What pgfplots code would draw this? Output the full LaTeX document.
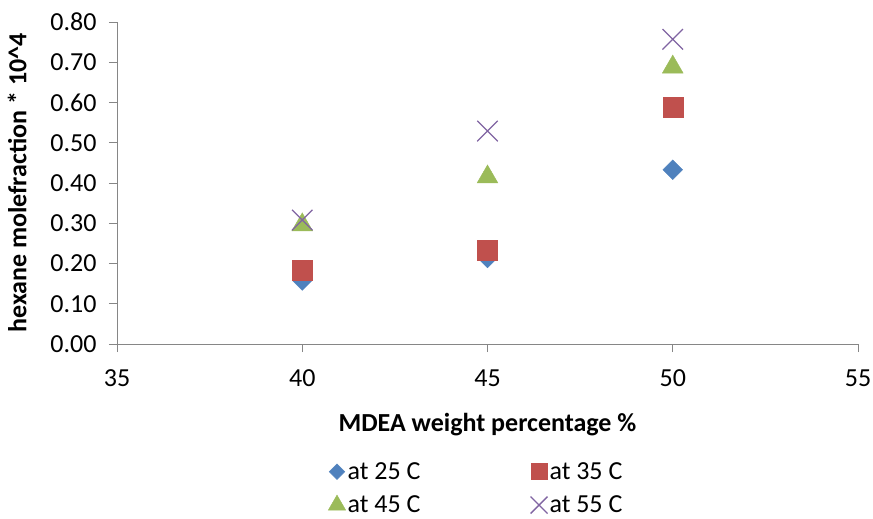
\documentclass[border=0pt]{standalone}
\usepackage{pgfplots}
\pgfplotsset{compat=1.18}
\usepackage{fontspec}
\setmainfont{Carlito}
\definecolor{s25}{HTML}{4F81BD}
\definecolor{s35}{HTML}{C0504D}
\definecolor{s45}{HTML}{9BBB59}
\definecolor{s55}{HTML}{8064A2}
\definecolor{axgray}{HTML}{868686}
\begin{document}
\begin{tikzpicture}[x=1pt,y=1pt]
\path[use as bounding box] (-117,-175) rectangle (756,344);
\begin{axis}[
  at={(0,0)}, anchor=south west,
  scale only axis, width=741pt, height=322pt,
  xmin=35, xmax=55, ymin=0, ymax=0.8,
  xtick={35,40,...,55}, ytick={0,0.1,...,0.8},
  axis x line*=bottom, axis y line*=left,
  axis line style={axgray, line width=0.9pt, -},
  tick style={axgray, line width=0.9pt},
  tick align=outside, major tick length=8pt,
  /pgf/number format/assume math mode=true,
  yticklabel style={/pgf/number format/fixed, /pgf/number format/fixed zerofill, /pgf/number format/precision=2, xshift=-9pt},
  tick label style={font=\fontsize{26}{31}\selectfont},
  xticklabel style={yshift=-14pt},
  xlabel={\textbf{MDEA weight percentage \%}},
  ylabel={\textbf{hexane molefraction * 10\^{}4}},
  label style={font=\fontsize{26}{31}\selectfont},
  xlabel style={yshift=-20pt},
  ylabel style={yshift=17pt},
  legend columns=2,
  legend style={draw=none, at={(0.485,-0.355)}, anchor=north,
    font=\fontsize{26}{31}\selectfont,
    /tikz/every even column/.append style={column sep=108pt},
    row sep=11pt},
  legend cell align=left,
]
\addplot[only marks, mark=square*, mark size=7pt, mark options={rotate=45}, color=s25,
  legend image post style={mark size=5.5pt}] coordinates {(40,0.158) (45,0.214) (50,0.433)};
\addlegendentry{at 25 C}
\addplot[only marks, mark=square*, mark size=10pt, color=s35,
  legend image post style={mark size=8pt}] coordinates {(40,0.184) (45,0.234) (50,0.589)};
\addlegendentry{at 35 C}
\addplot[only marks, mark=triangle*, mark size=12pt, color=s45,
  legend image post style={mark size=10pt}] coordinates {(40,0.296) (45,0.415) (50,0.688)};
\addlegendentry{at 45 C}
\addplot[only marks, mark=x, mark size=14.5pt, line width=1.3pt, color=s55,
  legend image post style={mark size=12pt}] coordinates {(40,0.308) (45,0.529) (50,0.757)};
\addlegendentry{at 55 C}
\end{axis}
\end{tikzpicture}
\end{document}
